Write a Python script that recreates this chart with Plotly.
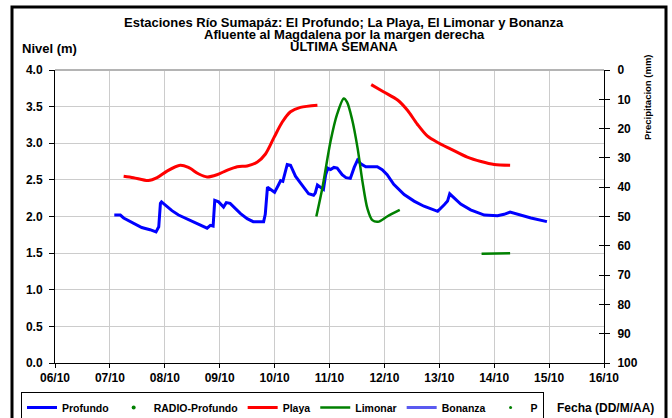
import plotly.graph_objects as go

# ---------------- data ----------------
day_ticks = [6, 7, 8, 9, 10, 11, 12, 13, 14, 15, 16]
day_labels = ["06/10", "07/10", "08/10", "09/10", "10/10", "11/10",
              "12/10", "13/10", "14/10", "15/10", "16/10"]

profundo_day = [7.08, 7.19, 7.25, 7.37, 7.49, 7.58, 7.73, 7.84, 7.89, 7.92, 7.94,
                8.04, 8.13, 8.25, 8.34, 8.43, 8.59, 8.68, 8.77, 8.83, 8.88, 8.91,
                8.98, 9.07, 9.12, 9.19, 9.28, 9.38, 9.50, 9.61, 9.80, 9.83, 9.87,
                9.92, 10.00, 10.07, 10.11, 10.15, 10.18, 10.23, 10.29, 10.38, 10.47,
                10.56, 10.62, 10.71, 10.74, 10.78, 10.84, 10.89, 10.93, 10.97, 11.02,
                11.08, 11.14, 11.23, 11.30, 11.38, 11.45, 11.51, 11.57, 11.66, 11.87,
                11.96, 12.05, 12.17, 12.36, 12.54, 12.72, 12.87, 12.97, 13.09, 13.15,
                13.19, 13.27, 13.39, 13.57, 13.82, 14.06, 14.18, 14.29, 14.42, 14.67,
                14.96]
profundo_lvl = [2.02, 2.02, 1.98, 1.93, 1.88, 1.85, 1.82, 1.79, 1.86, 2.18, 2.20,
                2.13, 2.08, 2.02, 1.99, 1.95, 1.90, 1.87, 1.84, 1.88, 1.87, 2.22,
                2.20, 2.13, 2.19, 2.18, 2.11, 2.04, 1.97, 1.93, 1.93, 2.03, 2.40,
                2.37, 2.33, 2.43, 2.49, 2.48, 2.57, 2.71, 2.70, 2.55, 2.46,
                2.37, 2.31, 2.29, 2.32, 2.43, 2.39, 2.37, 2.57, 2.66, 2.64,
                2.67, 2.66, 2.57, 2.53, 2.52, 2.67, 2.77, 2.72, 2.68, 2.68,
                2.64, 2.57, 2.44, 2.30, 2.21, 2.14, 2.10, 2.07, 2.16, 2.21,
                2.31, 2.25, 2.17, 2.09, 2.02, 2.01, 2.03, 2.06, 2.03, 1.98,
                1.93]

playa_day = [7.25, 7.43, 7.70, 7.86, 8.04, 8.28, 8.43, 8.62, 8.77, 8.95, 9.13,
             9.32, 9.50, 9.68, 9.83, 9.99, 10.14, 10.29, 10.47, 10.78, None,
             11.76, 11.99, 12.24, 12.42, 12.60, 12.78, 12.97, 13.21, 13.51, 13.76,
             14.00, 14.29]
playa_lvl = [2.55, 2.53, 2.49, 2.53, 2.62, 2.70, 2.67, 2.58, 2.54, 2.57, 2.63,
             2.68, 2.69, 2.74, 2.85, 3.08, 3.29, 3.43, 3.49, 3.52, None,
             3.80, 3.70, 3.59, 3.45, 3.26, 3.10, 3.01, 2.92, 2.81, 2.75,
             2.71, 2.70]

limonar_day = [10.76, 10.87, 11.02, 11.14, 11.26, 11.32, 11.41, 11.51, 11.60,
               11.69, 11.78, 11.90, 12.05, 12.28, None, 13.77, 14.29]
limonar_lvl = [2.00, 2.39, 3.03, 3.40, 3.61, 3.56, 3.33, 2.94, 2.48,
               2.11, 1.95, 1.93, 2.00, 2.09, None, 1.49, 1.50]

# series present in the legend but with no readable data in the picture
radio_day, radio_lvl = [None], [None]
bonanza_day, bonanza_lvl = [None], [None]
p_day, p_mm = [None], [None]

precip_ticks = [0, 10, 20, 30, 40, 50, 60, 70, 80, 90, 100]

title_lines = ["Estaciones Río Sumapáz: El Profundo; La Playa, El Limonar y Bonanza",
               "Afluente al Magdalena por la margen derecha",
               "ULTIMA SEMANA"]

# ---------------- figure ----------------
FONT = "Liberation Sans, Arial, sans-serif"
W, H = 672, 418
L, R, T, B = 55, 604, 70, 363  # plot area in pixels


def px(x):
    return (x - L) / (R - L)


def py(y):
    return (B - y) / (B - T)


fig = go.Figure()

fig.add_trace(go.Scatter(x=profundo_day, y=profundo_lvl, name="Profundo", mode="lines",
                         line=dict(color="#0000FF", width=3)))
fig.add_trace(go.Scatter(x=radio_day, y=radio_lvl, name="RADIO-Profundo", mode="markers",
                         marker=dict(color="#008000", size=4)))
fig.add_trace(go.Scatter(x=playa_day, y=playa_lvl, name="Playa", mode="lines",
                         line=dict(color="#FF0000", width=3, shape="spline", smoothing=0.8)))
fig.add_trace(go.Scatter(x=limonar_day, y=limonar_lvl, name="Limonar", mode="lines",
                         line=dict(color="#008000", width=2.5, shape="spline", smoothing=0.8)))
fig.add_trace(go.Scatter(x=bonanza_day, y=bonanza_lvl, name="Bonanza", mode="lines",
                         line=dict(color="#5A5AF0", width=3)))
fig.add_trace(go.Scatter(x=p_day, y=p_mm, name="P", mode="markers", yaxis="y2",
                         marker=dict(color="#008000", size=3)))
fig.add_trace(go.Scatter(x=[None], y=[None], yaxis="y3", showlegend=False, hoverinfo="skip"))

tickfont = dict(family=FONT, size=12, color="black", weight="bold")

fig.update_layout(
    width=W, height=H,
    margin=dict(l=L, r=W - R, t=T, b=H - B, autoexpand=False),
    paper_bgcolor="white", plot_bgcolor="white",
    font=dict(family=FONT, color="black"),
    showlegend=True,
    legend=dict(orientation="h", xref="container", yref="container",
                x=21 / W, y=1 - 392 / H, xanchor="left", yanchor="top",
                bordercolor="black", borderwidth=1, bgcolor="white",
                font=dict(family=FONT, size=10.5, color="black", weight="bold"),
                itemwidth=30, tracegroupgap=0),
    xaxis=dict(range=[6, 16], tickvals=day_ticks, ticktext=day_labels,
               showgrid=True, gridcolor="#CCCCCC", gridwidth=1,
               showline=True, linecolor="black", linewidth=1,
               ticks="outside", ticklen=4, tickcolor="black",
               tickfont=tickfont, zeroline=False, automargin=False),
    yaxis=dict(range=[0, 4], tickvals=[0, 0.5, 1, 1.5, 2, 2.5, 3, 3.5, 4],
               tickformat=".1f", showgrid=True, gridcolor="#CCCCCC", gridwidth=1,
               showline=True, linecolor="black", linewidth=1,
               ticks="outside", ticklen=5, tickcolor="black",
               ticklabelstandoff=4, tickfont=tickfont, zeroline=False, automargin=False),
    yaxis2=dict(range=[100, 0], tickvals=precip_ticks, overlaying="y", side="right",
                showgrid=False, showline=True, linecolor="black", linewidth=1,
                ticks="outside", ticklen=5, tickcolor="black",
                ticklabelstandoff=5, tickfont=tickfont, zeroline=False, automargin=False),
    yaxis3=dict(range=[100, 0], tickvals=precip_ticks, overlaying="y", side="right",
                showgrid=False, showline=False, ticks="inside", ticklen=5,
                tickcolor="black", showticklabels=False, zeroline=False, automargin=False),
)

# top plot border (gray)
fig.add_shape(type="line", xref="paper", yref="paper", x0=0, x1=1, y0=1, y1=1,
              line=dict(color="#B4B4B4", width=2))
# outer black frame
fig.add_shape(type="rect", xref="paper", yref="paper",
              x0=px(12), x1=px(666), y0=py(430), y1=py(7),
              line=dict(color="black", width=3), fillcolor="rgba(0,0,0,0)", layer="above")

title_y = [22.5, 34.5, 46.5]
for txt, yy in zip(title_lines, title_y):
    fig.add_annotation(text=txt, xref="paper", yref="paper",
                       x=px(344), y=py(yy), borderpad=0,
                       xanchor="center", yanchor="middle", showarrow=False,
                       font=dict(family=FONT, size=13, color="black", weight="bold"))

fig.add_annotation(text="Nivel (m)", xref="paper", yref="paper",
                   x=px(20), y=py(48), xanchor="left", yanchor="middle",
                   showarrow=False, font=dict(family=FONT, size=13, color="black", weight="bold"))
fig.add_annotation(text="Precipitacion (mm)", xref="paper", yref="paper",
                   x=px(647), y=py(97), xanchor="center", yanchor="middle",
                   textangle=-90, showarrow=False,
                   font=dict(family=FONT, size=9.5, color="black", weight="bold"))
fig.add_annotation(text="Fecha (DD/M/AA)", xref="paper", yref="paper",
                   x=px(605), y=py(408), xanchor="center", yanchor="middle",
                   showarrow=False, font=dict(family=FONT, size=12, color="black", weight="bold"))

fig.write_html("out.html", config={"displayModeBar": False},
               post_script="document.body.style.margin='0';")
